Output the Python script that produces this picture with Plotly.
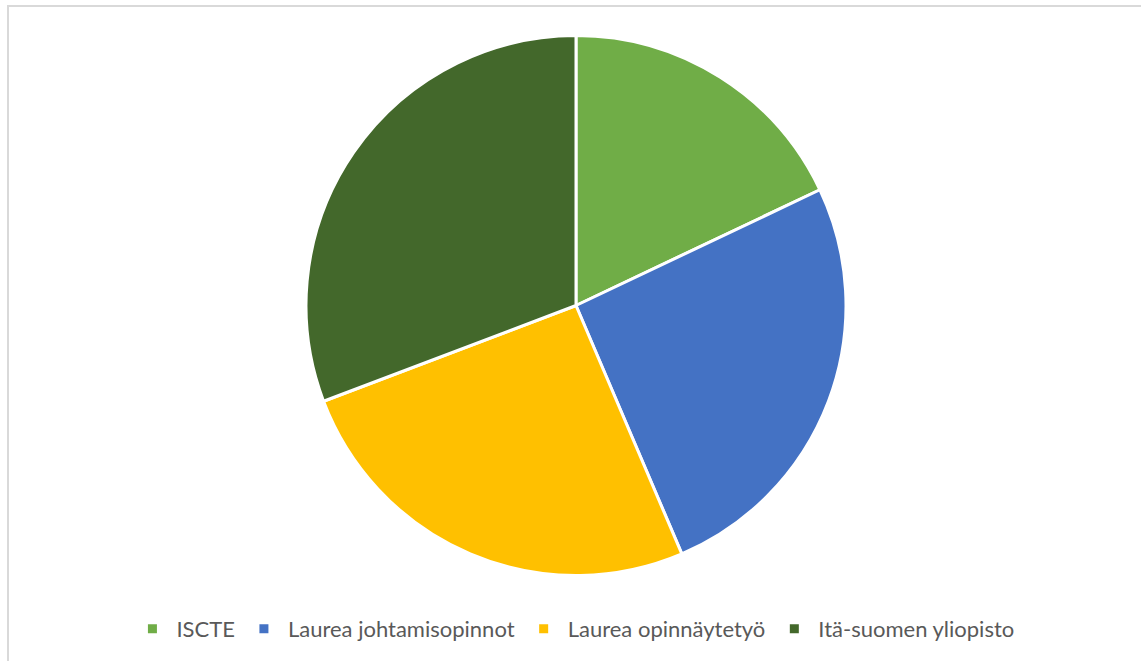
import plotly.graph_objects as go

W, H = 1141, 661

labels = ["ISCTE", "Laurea johtamisopinnot", "Laurea opinnäytetyö", "Itä-suomen yliopisto"]
values = [7, 10, 10, 12]
colors = ["#70AD47", "#4472C4", "#FFC000", "#43682B"]

# pie geometry in pixels
cx, cy, r = 576, 305.5, 270

fig = go.Figure(go.Pie(
    labels=labels,
    values=values,
    sort=False,
    direction="clockwise",
    rotation=0,
    textinfo="none",
    hoverinfo="label+value+percent",
    marker=dict(colors=colors, line=dict(color="white", width=3)),
    domain=dict(x=[(cx - r) / W, (cx + r) / W], y=[1 - (cy + r) / H, 1 - (cy - r) / H]),
))

fig.update_layout(
    width=W, height=H,
    margin=dict(l=0, r=0, t=0, b=0),
    paper_bgcolor="white",
    plot_bgcolor="white",
    showlegend=True,
    legend=dict(
        orientation="h",
        x=0.503, xanchor="center",
        y=1 - 629 / H, yanchor="middle",
        font=dict(family="Lato, 'Liberation Sans', sans-serif", size=22, color="#595959"),
        itemwidth=38,
        traceorder="normal",
    ),
    shapes=[dict(
        type="rect", xref="paper", yref="paper",
        x0=8 / W, x1=1.02, y0=-0.02, y1=1 - 6 / H,
        line=dict(color="#D9D9D9", width=2),
        fillcolor="rgba(0,0,0,0)",
        layer="below",
    )],
)

fig.write_html("out.html")
